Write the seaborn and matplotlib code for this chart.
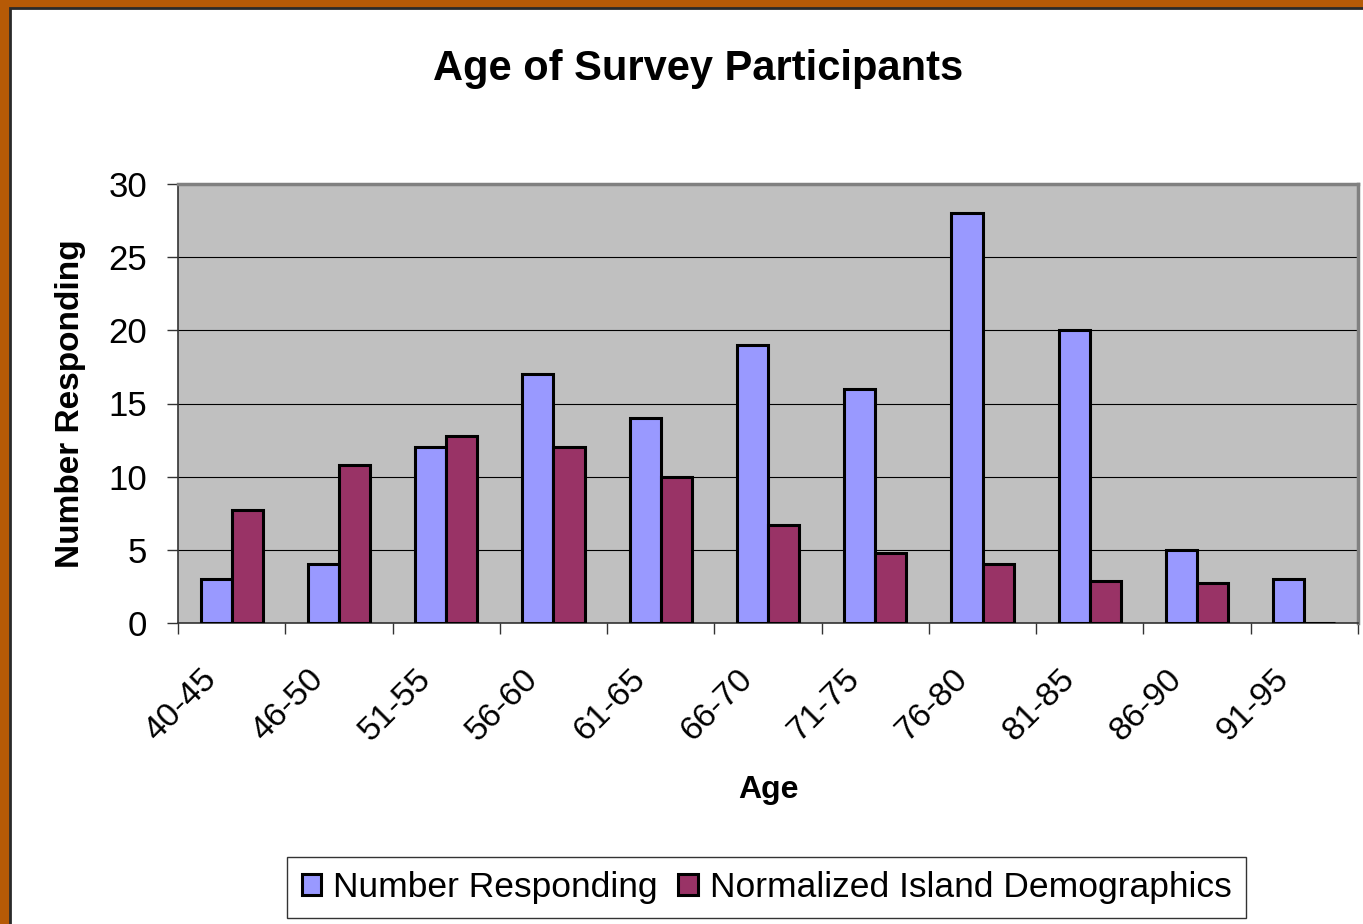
import matplotlib
matplotlib.use("Agg")
import matplotlib.pyplot as plt
from matplotlib.patches import Rectangle
import matplotlib.transforms as mtransforms
import seaborn as sns
import pandas as pd

categories = ["40-45", "46-50", "51-55", "56-60", "61-65", "66-70",
              "71-75", "76-80", "81-85", "86-90", "91-95"]
number_responding = [3, 4, 12, 17, 14, 19, 16, 28, 20, 5, 3]
normalized_demographics = [7.7, 10.8, 12.8, 12.0, 10.0, 6.7, 4.8, 4.0, 2.9, 2.7, 0]
series_names = ["Number Responding", "Normalized Island Demographics"]
colors = ["#9999FF", "#993366"]
y_ticks = [0, 5, 10, 15, 20, 25, 30]

df = pd.DataFrame({
    "Age": categories * 2,
    "Value": number_responding + normalized_demographics,
    "Series": [series_names[0]] * len(categories) + [series_names[1]] * len(categories),
})

sns.set_style("white")
plt.rcParams["font.family"] = ["Liberation Sans", "DejaVu Sans"]
plt.rcParams["text.color"] = "black"
plt.rcParams["axes.labelcolor"] = "black"
plt.rcParams["xtick.color"] = "black"
plt.rcParams["ytick.color"] = "black"

fig = plt.figure(figsize=(13.63, 9.24), dpi=100)
fig.patch.set_facecolor("#B65A06")
# white chart area with dark edge
fig.patches.append(Rectangle((10 / 1363, -0.01), 1.02, 1 - 8 / 924 + 0.01,
                             transform=fig.transFigure, facecolor="white",
                             edgecolor="#2a2a2a", linewidth=2, zorder=-5))

ax = fig.add_axes([178 / 1363, 1 - 623 / 924, (1358 - 178) / 1363, (623 - 184) / 924])
ax.set_facecolor("#C0C0C0")

sns.barplot(data=df, x="Age", y="Value", hue="Series", order=categories,
            hue_order=series_names, palette=colors, saturation=1, width=0.58,
            edgecolor="black", linewidth=2.2, ax=ax, legend=True, zorder=3)

ax.set_ylim(0, 30)
ax.set_xlim(-0.5, len(categories) - 0.5)
ax.set_yticks(y_ticks)
ax.set_yticklabels([str(v) for v in y_ticks], fontsize=25)
ax.yaxis.grid(True, color="black", linewidth=0.8, zorder=1)
ax.set_axisbelow(True)

# x ticks at category boundaries, labels at category centres
ax.set_xticks([i - 0.5 for i in range(len(categories) + 1)])
ax.set_xticklabels([])
ax.set_xticks(range(len(categories)), minor=True)
ax.set_xticklabels(categories, minor=True, fontsize=24.5, rotation=45,
                   ha="right", va="center", rotation_mode="anchor")
ax.tick_params(axis="x", which="major", direction="out", length=8, width=1,
               color="#333333", bottom=True)
ax.tick_params(axis="x", which="minor", length=0, pad=37)
ax.tick_params(axis="y", direction="out", length=8, width=1, color="#333333",
               left=True, pad=14)
offset = mtransforms.ScaledTranslation(-0.2, 0, fig.dpi_scale_trans)
for lab in ax.get_xticklabels(minor=True):
    lab.set_transform(lab.get_transform() + offset)

for side in ["left", "bottom"]:
    ax.spines[side].set_color("#333333")
    ax.spines[side].set_linewidth(1.2)
for side in ["top", "right"]:
    ax.spines[side].set_color("#808080")
    ax.spines[side].set_linewidth(2.5)

ax.set_xlabel("Age", fontsize=23, fontweight="bold", labelpad=20)
ax.set_ylabel("Number Responding", fontsize=24, fontweight="bold", labelpad=16)

fig.text(698 / 1363, 1 - 69 / 924, "Age of Survey Participants", fontsize=30,
         fontweight="bold", ha="center", va="center", color="black")

handles, labels = ax.get_legend_handles_labels()
ax.get_legend().remove()
leg = fig.legend(handles, labels, loc="center", bbox_to_anchor=(766.5 / 1363, 1 - 887.5 / 924),
                 ncol=2, fontsize=25.5, frameon=True, fancybox=False,
                 handlelength=0.56, handleheight=0.56, handletextpad=0.34,
                 columnspacing=0.56, borderpad=0.4, borderaxespad=0)
leg.get_frame().set_edgecolor("black")
leg.get_frame().set_linewidth(1.0)
leg.get_frame().set_facecolor("white")

fig.savefig("out.png", dpi=100, facecolor=fig.get_facecolor())
